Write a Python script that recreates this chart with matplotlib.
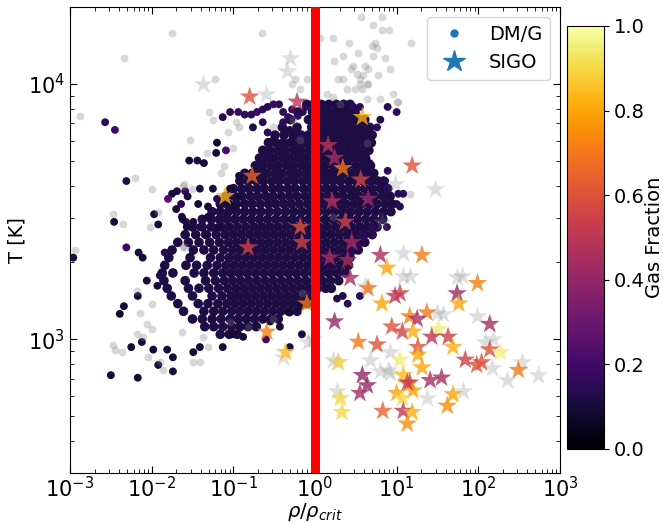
import numpy as np
import matplotlib
matplotlib.use("Agg")
import matplotlib.pyplot as plt
from matplotlib.lines import Line2D

# all positions are log10(rho/rho_crit), log10(T [K])

# dense DM/G cloud, one list of log10(rho/rho_crit) per log10(T) row
core_gas_frac = 0.12
core_rows = {
    3.92: [-0.10, -0.02, 0.08, 0.17, 0.26, 0.35, 0.43],
    3.89: [-0.21, -0.03, 0.06, 0.14, 0.23, 0.31, 0.40, 0.49],
    3.86: [-0.30, -0.08, 0.02, 0.10, 0.19, 0.27, 0.36, 0.45, 0.54, 0.61],
    3.83: [-0.40, -0.22, -0.04, 0.06, 0.15, 0.24, 0.33, 0.42, 0.51, 0.60, 0.67],
    3.80: [-0.49, -0.38, -0.27, -0.17, -0.08, 0.01, 0.10, 0.19, 0.28, 0.37, 0.46, 0.55, 0.64, 0.70],
    3.77: [-0.57, -0.48, -0.39, -0.30, -0.21, -0.12, -0.03, 0.06, 0.15, 0.24, 0.33, 0.42, 0.51, 0.60, 0.69],
    3.74: [-0.64, -0.55, -0.45, -0.36, -0.26, -0.17, -0.07, 0.03, 0.12, 0.21, 0.30, 0.39, 0.48, 0.57, 0.66],
    3.71: [-0.68, -0.59, -0.50, -0.40, -0.31, -0.21, -0.12, -0.02, 0.07, 0.17, 0.26, 0.35, 0.44, 0.53, 0.62],
    3.68: [-0.73, -0.64, -0.54, -0.45, -0.35, -0.26, -0.16, -0.07, 0.03, 0.12, 0.22, 0.31, 0.40, 0.50, 0.59, 0.68],
    3.65: [-0.86, -0.77, -0.68, -0.59, -0.49, -0.40, -0.30, -0.21, -0.11, -0.02, 0.08, 0.17, 0.26, 0.35, 0.45,
           0.54, 0.63, 0.72],
    3.62: [-0.92, -0.82, -0.72, -0.63, -0.53, -0.44, -0.34, -0.25, -0.15, -0.06, 0.04, 0.13, 0.22, 0.31, 0.41,
           0.50, 0.59, 0.68, 0.77, 0.84],
    3.59: [-1.00, -0.90, -0.81, -0.71, -0.62, -0.52, -0.43, -0.33, -0.24, -0.14, -0.05, 0.05, 0.14, 0.23, 0.33,
           0.42, 0.51, 0.61, 0.70, 0.80, 0.89],
    3.56: [-1.09, -0.99, -0.89, -0.79, -0.70, -0.60, -0.51, -0.41, -0.31, -0.22, -0.12, -0.03, 0.07, 0.16, 0.26,
           0.35, 0.45, 0.54, 0.64, 0.73, 0.83, 0.92],
    3.53: [-1.16, -1.06, -0.96, -0.86, -0.77, -0.67, -0.57, -0.48, -0.38, -0.29, -0.19, -0.09, 0.00, 0.10, 0.19,
           0.29, 0.38, 0.48, 0.57, 0.67, 0.76, 0.86, 0.94],
    3.50: [-1.26, -1.16, -1.06, -0.96, -0.86, -0.76, -0.66, -0.56, -0.46, -0.36, -0.26, -0.16, -0.06, 0.04, 0.14,
           0.24, 0.34, 0.44, 0.54, 0.64, 0.74, 0.84, 0.93],
    3.47: [-1.38, -1.27, -1.17, -1.08, -0.98, -0.88, -0.78, -0.68, -0.58, -0.48, -0.38, -0.28, -0.18, -0.08, 0.02,
           0.12, 0.22, 0.32, 0.42, 0.52, 0.62, 0.72, 0.83],
    3.44: [-1.50, -1.38, -1.27, -1.15, -1.05, -0.95, -0.85, -0.75, -0.65, -0.55, -0.45, -0.35, -0.25, -0.15, -0.05,
           0.05, 0.15, 0.25, 0.35, 0.45, 0.55, 0.65, 0.76],
    3.41: [-1.59, -1.46, -1.33, -1.21, -1.10, -1.00, -0.90, -0.80, -0.70, -0.60, -0.50, -0.40, -0.30, -0.20, -0.10,
           0.00, 0.10, 0.20, 0.30, 0.40, 0.50, 0.60, 0.70],
    3.38: [-1.68, -1.55, -1.42, -1.29, -1.17, -1.06, -0.96, -0.86, -0.76, -0.66, -0.56, -0.46, -0.36, -0.26, -0.16,
           -0.06, 0.04, 0.14, 0.24, 0.34, 0.44, 0.53, 0.61],
    3.35: [-1.75, -1.49, -1.36, -1.24, -1.12, -1.01, -0.91, -0.81, -0.71, -0.61, -0.51, -0.41, -0.31, -0.21,
           -0.11, -0.01, 0.09, 0.19, 0.29, 0.39, 0.47, 0.53],
    3.32: [-1.79, -1.53, -1.28, -1.16, -1.05, -0.95, -0.85, -0.75, -0.65, -0.55, -0.45, -0.35, -0.25,
           -0.15, -0.05, 0.05, 0.15, 0.25, 0.35, 0.43],
    3.29: [-1.84, -1.58, -1.45, -1.32, -1.20, -1.09, -0.99, -0.89, -0.79, -0.69, -0.59, -0.49, -0.39, -0.29,
           -0.19, -0.09, 0.01, 0.11, 0.21, 0.31, 0.41],
    3.26: [-1.87, -1.74, -1.48, -1.36, -1.24, -1.13, -1.03, -0.93, -0.83, -0.73, -0.63, -0.53, -0.43, -0.33,
           -0.23, -0.13, -0.03, 0.07, 0.17, 0.27, 0.37],
    3.23: [-1.85, -1.59, -1.34, -1.22, -1.11, -1.01, -0.91, -0.81, -0.71, -0.61, -0.51, -0.41, -0.31,
           -0.21, -0.11, -0.01, 0.09, 0.19, 0.29],
    3.20: [-1.81, -1.55, -1.42, -1.30, -1.18, -1.07, -0.97, -0.87, -0.77, -0.67, -0.57, -0.47, -0.37, -0.27,
           -0.17, -0.07, 0.03, 0.13, 0.20],
    3.17: [-1.76, -1.50, -1.26, -1.14, -1.03, -0.93, -0.83, -0.73, -0.63, -0.53, -0.43, -0.33, -0.23,
           -0.13, -0.03],
    3.14: [-1.68, -1.43, -1.31, -1.19, -1.08, -0.98, -0.88, -0.78, -0.68, -0.58, -0.48, -0.38, -0.28, -0.18,
           -0.10],
    3.11: [-1.61, -1.36, -1.24, -1.13, -1.02, -0.92, -0.82, -0.72, -0.62, -0.52, -0.42, -0.32, -0.22],
    3.08: [-1.50, -1.38, -1.26, -1.15, -1.04, -0.94, -0.84, -0.74, -0.64, -0.54, -0.45],
    3.05: [-1.35, -1.24, -1.13, -1.02, -0.92, -0.82, -0.72],
    3.02: [-1.16, -1.05, -0.95],
}

# scattered DM/G haloes around the cloud: (log rho, log T, gas fraction)
dm_outer = [
    (-2.57, 3.85, 0.15), (-2.45, 3.82, 0.20), (-2.31, 3.62, 0.12), (-2.96, 3.32, 0.12),
    (-2.50, 2.86, 0.10), (-2.17, 2.85, 0.10), (-1.92, 2.90, 0.10), (-1.74, 2.875, 0.10),
    (-2.25, 2.97, 0.10), (-2.12, 2.99, 0.10), (-1.98, 2.96, 0.10), (-2.39, 3.10, 0.10),
    (-2.34, 3.13, 0.10), (-2.17, 3.17, 0.10), (-2.06, 3.23, 0.10), (-1.93, 3.21, 0.10),
    (-1.90, 3.25, 0.12), (-2.31, 3.36, 0.18), (-2.16, 3.34, 0.10), (-2.11, 3.32, 0.10),
    (-1.84, 3.34, 0.15), (-1.74, 2.93, 0.10), (-1.81, 2.96, 0.10), (-1.97, 3.49, 0.10),
    (-1.92, 3.45, 0.10), (-2.46, 3.46, 0.10), (-1.75, 3.57, 0.10), (-1.69, 3.58, 0.12),
    (-1.59, 3.58, 0.18), (-1.80, 3.55, 0.25), (-1.64, 3.53, 0.15), (-1.70, 3.51, 0.10),
    (-1.63, 3.48, 0.12), (-1.58, 3.46, 0.15), (-1.54, 3.70, 0.10), (-1.44, 3.70, 0.12),
    (-1.36, 3.69, 0.10), (-1.20, 3.77, 0.08), (-1.21, 3.73, 0.10), (-1.09, 3.74, 0.22),
    (-0.93, 3.64, 0.10), (-1.25, 3.59, 0.10), (-1.41, 3.59, 0.12), (-1.56, 3.56, 0.10),
    (-1.20, 3.55, 0.15), (-1.31, 3.52, 0.10), (-1.43, 3.53, 0.10), (-1.49, 3.46, 0.10),
    (-1.57, 3.44, 0.10), (-1.41, 3.44, 0.12), (-1.35, 3.41, 0.10), (-1.19, 3.44, 0.10),
    (-1.08, 3.48, 0.12), (-1.00, 3.52, 0.10), (-0.94, 3.56, 0.10), (-1.04, 3.59, 0.10),
    (-1.62, 3.47, 0.10), (-1.31, 3.48, 0.10), (-1.10, 3.53, 0.10),
    # arc along the top of the cloud
    (-1.13, 3.87, 0.15), (-1.04, 3.89, 0.15), (-0.94, 3.89, 0.18), (-0.86, 3.88, 0.15),
    (-0.78, 3.88, 0.15), (-0.71, 3.89, 0.18), (-0.64, 3.90, 0.15), (-0.58, 3.91, 0.15),
    (-0.51, 3.92, 0.18), (-0.44, 3.92, 0.15), (-0.39, 3.89, 0.15), (-0.33, 3.87, 0.15),
    (-0.28, 3.90, 0.18), (-0.21, 3.875, 0.15), (-0.15, 3.89, 0.15), (-0.11, 3.91, 0.15),
    (-0.76, 3.83, 0.12), (-0.64, 3.85, 0.15), (-0.39, 3.85, 0.15), (-0.31, 3.82, 0.12),
    (-0.16, 3.79, 0.15), (-0.51, 3.78, 0.12), (-0.58, 3.81, 0.15),
    # right-hand edge
    (0.89, 3.91, 0.15), (1.00, 3.89, 0.15), (0.80, 3.86, 0.12), (0.76, 3.83, 0.15),
    (0.47, 3.91, 0.15), (0.55, 3.91, 0.15), (0.67, 3.69, 0.12), (0.89, 3.66, 0.15),
    (0.86, 3.62, 0.12), (0.88, 3.59, 0.15), (1.02, 3.57, 0.15), (1.00, 3.53, 0.12),
    (0.83, 3.48, 0.12), (0.70, 3.44, 0.15), (0.59, 3.40, 0.15), (0.43, 3.34, 0.15),
    (0.53, 3.36, 0.15), (0.58, 3.41, 0.15), (0.70, 3.41, 0.15), (0.88, 3.44, 0.15),
    (0.40, 3.14, 0.15), (0.55, 3.17, 0.15), (0.34, 3.17, 0.12), (0.27, 3.16, 0.12),
    (1.08, 3.57, 0.15), (1.04, 3.52, 0.15),
    # lower edge
    (-0.16, 3.02, 0.12), (-0.31, 2.97, 0.12), (-0.60, 3.00, 0.20), (-0.83, 3.05, 0.10),
    (-1.13, 2.97, 0.10), (-1.41, 2.97, 0.10), (-1.49, 2.95, 0.10), (-1.00, 3.02, 0.10),
    (-0.88, 3.01, 0.10), (-0.71, 3.05, 0.10), (-0.55, 3.07, 0.10), (-0.43, 3.05, 0.10),
    (-0.31, 3.105, 0.10), (-0.18, 3.13, 0.10),
]

# DM/G haloes without a gas fraction (grey)
dm_grey = [
    (-0.65, 4.20), (-1.22, 4.02), (0.06, 4.18), (0.22, 4.18), (0.56, 4.26), (0.71, 4.23),
    (0.82, 4.26), (0.82, 4.21), (0.91, 4.21), (1.18, 4.16), (0.42, 4.16), (0.34, 4.11),
    (0.23, 4.09), (0.53, 4.12), (0.70, 4.15), (0.73, 4.16), (0.76, 4.14), (0.71, 4.11),
    (0.86, 4.10), (0.47, 4.07), (0.61, 4.07), (0.44, 4.06), (0.51, 4.04), (0.59, 4.035),
    (0.65, 4.06), (0.55, 4.02), (0.77, 4.035), (0.92, 4.06), (0.28, 4.02), (0.34, 4.02),
    (0.39, 3.98), (0.49, 3.98), (0.58, 3.98), (0.64, 3.94), (0.22, 3.95), (0.96, 3.96),
    (1.02, 3.93), (0.80, 3.94), (0.64, 4.00), (0.31, 3.92), (-0.10, 4.02), (-0.24, 4.02),
    (-0.28, 4.00), (-1.75, 4.20), (-2.34, 4.10), (-2.88, 3.875), (-1.30, 3.89), (-1.25, 3.86),
    (-1.07, 3.81), (-0.97, 3.85), (-0.93, 3.83), (-1.53, 3.78), (-1.32, 3.73), (-1.00, 3.75),
    (-1.11, 3.68), (-1.15, 3.65), (-2.20, 3.63), (-2.00, 3.59), (-1.60, 3.61), (-1.51, 3.59),
    (-2.47, 3.49), (-2.35, 3.45), (-2.02, 3.44), (-2.94, 3.35), (-0.51, 3.83), (-0.27, 3.86),
    (-0.18, 3.78), (-0.18, 3.98), (-2.45, 2.96), (-2.14, 3.105), (-2.11, 3.01), (-1.49, 2.91),
    (-1.41, 2.91), (-1.86, 2.88), (-2.06, 3.06), (-1.63, 3.03), (-1.37, 3.01), (-1.31, 2.97),
    (-1.60, 3.36), (-1.04, 3.07), (-0.82, 3.05), (-0.51, 3.08), (-0.16, 3.18), (-2.36, 2.95),
    (-2.04, 2.93), (-2.18, 3.19), (-2.00, 3.14), (-2.47, 2.98), (-1.90, 2.91), (-1.62, 3.36),
    (-2.18, 3.02), (-2.00, 3.04), (-1.92, 3.50), (-1.62, 3.60), (0.15, 3.96), (0.55, 4.00),
    (0.65, 4.00), (1.00, 3.93), (0.64, 3.77), (1.16, 3.57), (0.22, 3.48),
]

# SIGOs: (log rho, log T, gas fraction)
sigo = [
    (-0.80, 3.95, 0.60), (-0.22, 3.93, 0.50), (0.58, 3.87, 0.82), (0.16, 3.76, 0.50),
    (0.24, 3.71, 0.45), (0.34, 3.67, 0.70), (0.56, 3.625, 0.57), (0.21, 3.54, 0.48),
    (0.65, 3.55, 0.42), (0.37, 3.46, 0.55), (1.19, 3.68, 0.60), (-0.77, 3.64, 0.65),
    (-1.10, 3.56, 0.82), (-0.18, 3.44, 0.60), (-0.16, 3.38, 0.55), (-0.82, 3.36, 0.55),
    (0.18, 3.32, 0.45), (-0.10, 3.14, 0.70), (-0.59, 3.03, 0.72), (-0.36, 2.95, 0.85),
    (0.24, 3.07, 0.40), (0.45, 3.38, 0.45), (0.40, 3.31, 0.45), (0.80, 3.33, 0.45),
    (0.88, 3.28, 0.80), (1.31, 3.33, 0.70), (0.65, 3.20, 0.70), (0.82, 3.14, 0.80),
    (1.04, 3.18, 0.55), (0.98, 3.17, 0.50), (1.16, 3.09, 0.70), (1.37, 3.105, 0.70),
    (1.25, 3.08, 0.45), (0.94, 3.05, 0.60), (1.07, 3.03, 0.55), (1.20, 3.03, 0.82),
    (1.51, 3.04, 0.95), (1.63, 3.01, 0.55), (1.43, 3.01, 0.50), (1.69, 2.97, 0.82),
    (0.53, 2.99, 0.70), (0.76, 2.98, 0.60), (1.26, 2.97, 0.60), (1.04, 2.92, 0.95),
    (1.26, 2.94, 0.80), (1.31, 2.89, 0.80), (0.29, 2.91, 0.90), (0.58, 2.86, 0.40),
    (0.64, 2.82, 0.40), (0.55, 2.79, 0.45), (1.08, 2.86, 0.85), (1.16, 2.83, 0.55),
    (1.41, 2.84, 0.45), (1.55, 2.85, 0.45), (1.00, 2.79, 0.80), (1.20, 2.80, 0.80),
    (1.69, 2.785, 0.80), (0.31, 2.77, 0.90), (1.07, 2.77, 0.90), (0.33, 2.715, 0.90),
    (0.83, 2.72, 0.65), (1.08, 2.72, 0.50), (1.19, 2.715, 0.82), (1.62, 2.74, 0.75),
    (1.13, 2.67, 0.75), (1.13, 2.83, 0.55), (0.43, 3.24, 0.45), (1.74, 3.18, 0.42),
    (1.76, 3.14, 0.80), (1.99, 3.22, 0.72), (2.14, 3.06, 0.45), (2.14, 2.96, 0.60),
    (2.27, 2.95, 0.95), (1.84, 2.92, 0.55), (1.98, 2.90, 0.60), (2.04, 2.91, 0.60),
    (2.49, 2.88, 0.70),
]

# SIGOs without a gas fraction (grey)
sigo_grey = [
    (-1.37, 4.00), (-0.60, 3.96), (-0.31, 4.10), (-0.34, 4.05), (0.98, 3.61), (1.47, 3.59),
    (0.82, 3.46), (1.08, 3.34), (1.08, 3.25), (1.80, 3.25), (1.98, 3.09), (2.08, 2.99),
    (2.18, 3.00), (2.35, 2.84), (2.53, 2.91), (2.73, 2.86), (2.17, 2.89), (0.92, 2.87),
    (0.80, 2.875), (1.37, 2.77), (1.81, 2.80), (0.27, 2.91), (0.27, 2.80), (0.92, 2.95),
    (0.67, 2.92), (1.16, 3.25), (0.61, 3.21), (0.89, 2.88), (1.74, 3.245), (1.57, 3.10),
    (0.22, 2.92), (-0.39, 2.93), (-0.02, 3.00), (-0.09, 2.99), (1.49, 3.105),
]

rho_crit_line = 1.0

core_x = np.concatenate([np.array(v) for v in core_rows.values()])
core_y = np.concatenate([np.full(len(v), k) for k, v in core_rows.items()])
outer = np.array(dm_outer)
grey = np.array(dm_grey)
stars = np.array(sigo)
stars_grey = np.array(sigo_grey)

plt.rcParams['font.size'] = 14
fig = plt.figure(figsize=(6.63, 5.23), dpi=100)
ax = fig.add_axes([0.1056, 0.0956, 0.739, 0.891])
cax = fig.add_axes([0.8552, 0.1415, 0.0558, 0.8088])

cmap = plt.get_cmap('inferno')
ax.scatter(10**core_x, 10**core_y, c=np.full(len(core_x), core_gas_frac), cmap=cmap,
           vmin=0, vmax=1, s=48, linewidths=0)
ax.scatter(10**outer[:, 0], 10**outer[:, 1], c=outer[:, 2], cmap=cmap,
           vmin=0, vmax=1, s=32, linewidths=0)
ax.scatter(10**grey[:, 0], 10**grey[:, 1], color='grey', alpha=0.3, s=32, linewidths=0)
ax.scatter(10**stars_grey[:, 0], 10**stars_grey[:, 1], color='grey', alpha=0.25,
           marker='*', s=220, linewidths=0)
sc = ax.scatter(10**stars[:, 0], 10**stars[:, 1], c=stars[:, 2], cmap=cmap,
                vmin=0, vmax=1, marker='*', s=220, alpha=0.8, linewidths=0)
ax.axvline(rho_crit_line, color='red', lw=6.5, zorder=5)

ax.set_xscale('log')
ax.set_yscale('log')
ax.set_xlim(1e-3, 1e3)
ax.set_ylim(300, 2e4)
ax.set_xlabel(r'$\rho/\rho_{crit}$', labelpad=0)
ax.set_ylabel('T [K]', labelpad=1)
ax.tick_params(which='both', direction='in', top=True, right=True, labelsize=15)
ax.tick_params(axis='x', pad=2)
ax.tick_params(which='major', length=5)
ax.tick_params(which='minor', length=3)

handles = [
    Line2D([], [], ls='none', marker='o', markersize=5, color='C0', label='DM/G'),
    Line2D([], [], ls='none', marker='*', markersize=16, color='C0', label='SIGO'),
]
ax.legend(handles=handles, loc='upper right')

cb = fig.colorbar(sc, cax=cax)
cb.solids.set_alpha(1)
cb.ax.tick_params(labelsize=14)
cb.set_label('Gas Fraction', fontsize=14, labelpad=0)

fig.savefig('out.png', dpi=100)
